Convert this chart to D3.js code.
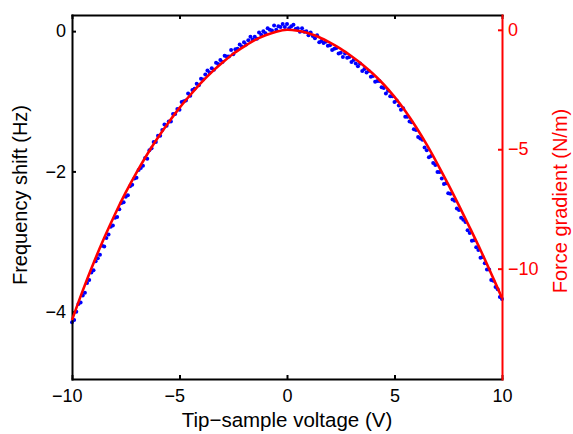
<!DOCTYPE html>
<html><head><meta charset="utf-8">
<script src="https://cdn.jsdelivr.net/npm/d3@7"></script>
<style>
html,body{margin:0;padding:0;background:#fff;}
svg{display:block;font-family:"Liberation Sans",Arial,Helvetica,sans-serif;}
</style></head>
<body>
<svg id="chart" width="573" height="434"></svg>
<script>
// Tip-sample voltage for the measured points (V), -10 to 10 in 0.1 V steps
const voltage = d3.range(201).map(i => -10 + i * 0.1);
const freqShift = [
-4.15,-4.12,-4.00,-3.89,-3.87,-3.77,-3.73,-3.59,-3.55,-3.44,-3.41,
-3.28,-3.24,-3.19,-3.06,-3.07,-2.95,-2.90,-2.79,-2.77,-2.66,
-2.65,-2.54,-2.45,-2.44,-2.36,-2.34,-2.21,-2.19,-2.10,-2.09,
-1.98,-1.95,-1.92,-1.81,-1.82,-1.70,-1.67,-1.58,-1.58,-1.49,
-1.49,-1.41,-1.33,-1.35,-1.29,-1.29,-1.18,-1.18,-1.11,-1.12,
-1.01,-1.00,-0.99,-0.89,-0.92,-0.84,-0.82,-0.75,-0.77,-0.68,
-0.69,-0.62,-0.56,-0.59,-0.53,-0.55,-0.45,-0.47,-0.41,-0.44,
-0.35,-0.36,-0.36,-0.27,-0.33,-0.26,-0.25,-0.19,-0.22,-0.16,
-0.19,-0.13,-0.08,-0.12,-0.08,-0.11,-0.02,-0.05,0.00,-0.03,
0.04,0.02,0.01,0.08,0.02,0.07,0.06,0.10,0.06,0.10,
0.04,0.07,0.09,0.03,0.04,-0.01,0.04,-0.01,0.00,-0.06,
-0.02,-0.07,-0.10,-0.06,-0.16,-0.14,-0.17,-0.15,-0.21,-0.20,
-0.27,-0.25,-0.24,-0.32,-0.31,-0.37,-0.32,-0.38,-0.37,-0.44,
-0.41,-0.46,-0.50,-0.46,-0.57,-0.54,-0.59,-0.57,-0.65,-0.64,
-0.72,-0.71,-0.71,-0.80,-0.81,-0.89,-0.85,-0.93,-0.93,-1.01,
-0.99,-1.06,-1.12,-1.10,-1.22,-1.22,-1.29,-1.30,-1.40,-1.41,
-1.51,-1.53,-1.55,-1.66,-1.70,-1.80,-1.78,-1.88,-1.91,-2.01,
-2.01,-2.10,-2.18,-2.17,-2.31,-2.32,-2.40,-2.42,-2.53,-2.55,
-2.66,-2.69,-2.72,-2.84,-2.88,-2.99,-2.98,-3.08,-3.12,-3.23,
-3.22,-3.31,-3.40,-3.40,-3.55,-3.56,-3.65,-3.68,-3.79,-3.82
];
// Force gradient curve (N/m) at 0.5 V steps
const fitVoltage = d3.range(41).map(i => -10 + i * 0.5);
const forceGradient = [
-12.15,-10.92,-9.77,-8.71,-7.72,-6.81,-5.98,-5.21,-4.51,-3.87,
-3.27,-2.73,-2.22,-1.77,-1.37,-1.00,-0.70,-0.43,-0.23,-0.08,
0.00,-0.04,-0.14,-0.31,-0.54,-0.80,-1.11,-1.45,-1.84,-2.29,
-2.81,-3.40,-4.07,-4.81,-5.62,-6.47,-7.36,-8.28,-9.22,-10.21,-11.23
];
const xTicks = [-10, -5, 0, 5, 10];
const yLeftTicks = [0, -2, -4];
const yRightTicks = [0, -5, -10];

const svg = d3.select("#chart");
const L = 72, R = 502, T = 15, B = 379;
const x = d3.scaleLinear().domain([-10, 10]).range([L, R]);
const yL = d3.scaleLinear().domain([-4.96, 0.23]).range([B, T]);
const yR = d3.scaleLinear().domain([-14.62, 0.62]).range([B, T]);
const fmt = d3.format("d");

// blue measured points
svg.append("g").selectAll("circle").data(voltage).join("circle")
  .attr("cx", (v) => x(v)).attr("cy", (v, i) => yL(freqShift[i]))
  .attr("r", 2).attr("fill", "#0000ff");

// left axes (black)
const fs = 18;
const gB = svg.append("g").attr("transform", `translate(0,${B})`)
  .call(d3.axisBottom(x).tickValues(xTicks).tickFormat(fmt).tickSize(-4).tickSizeOuter(0).tickPadding(10));
gB.selectAll("text").attr("dx", d => d < 0 ? "-0.29em" : 0);
const gT = svg.append("g").attr("transform", `translate(0,${T})`)
  .call(d3.axisTop(x).tickValues(xTicks).tickSize(-4).tickSizeOuter(0).tickFormat(""));
const gL = svg.append("g").attr("transform", `translate(${L},0)`)
  .call(d3.axisLeft(yL).tickValues(yLeftTicks).tickFormat(fmt).tickSize(-4).tickSizeOuter(0).tickPadding(6));
[gB, gT, gL].forEach(g => {
  g.selectAll("path,line").attr("stroke", "#000").attr("stroke-width", 2);
  g.selectAll("text").attr("fill", "#000").style("font-size", fs + "px").attr("font-family", null);
});

// red force gradient curve
const line = d3.line().x((v) => x(v)).y((v, i) => yR(forceGradient[i])).curve(d3.curveCatmullRom);
svg.append("path").datum(fitVoltage).attr("d", line)
  .attr("fill", "none").attr("stroke", "#ff0000").attr("stroke-width", 2.6);

// right axis (red)
const gR = svg.append("g").attr("transform", `translate(${R},0)`)
  .call(d3.axisRight(yR).tickValues(yRightTicks).tickFormat(fmt).tickSize(-4).tickSizeOuter(0).tickPadding(6));
gR.selectAll("path,line").attr("stroke", "#ff0000").attr("stroke-width", 2);
gR.selectAll("text").attr("fill", "#ff0000").style("font-size", fs + "px").attr("font-family", null);
svg.selectAll(".domain").attr("stroke-linecap", "square");

// labels
svg.append("text").attr("x", (L + R) / 2).attr("y", 427).attr("text-anchor", "middle")
  .style("font-size", "20.5px").attr("fill", "#000").text("Tip\u2212sample voltage (V)");
svg.append("text").attr("transform", `translate(27,195) rotate(-90)`).attr("text-anchor", "middle")
  .style("font-size", "20px").attr("fill", "#000").text("Frequency shift (Hz)");
svg.append("text").attr("transform", `translate(567,201) rotate(-90)`).attr("text-anchor", "middle")
  .style("font-size", "20px").attr("fill", "#ff0000").text("Force gradient (N/m)");
</script>
</body></html>
